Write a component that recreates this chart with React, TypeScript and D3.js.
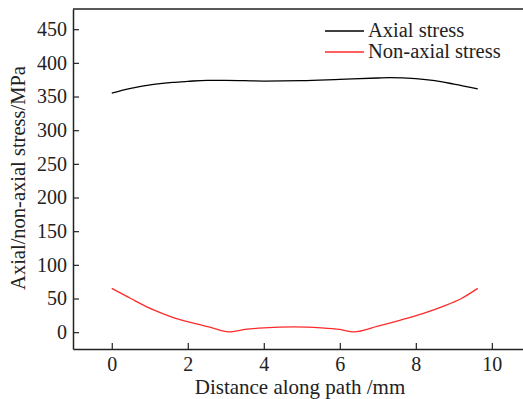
import * as d3 from 'd3'
import { useEffect, useRef } from 'react'

const axialX = [0, 0.5, 1.1, 1.6, 2.0, 2.5, 3.0, 4.0, 5.0, 6.0, 7.0, 7.3, 8.0, 8.5, 9.0, 9.63];
const axialY = [355, 362, 368, 371, 372.5, 374, 374, 373, 373.5, 375.5, 377.5, 378, 376.5, 373.5, 368.5, 361.5];

const nonAxialX = [0, 0.5, 1.1, 1.6, 2.1, 2.6, 3.08, 3.5, 4.0, 4.8, 5.5, 6.0, 6.37, 7.0, 7.6, 8.2, 8.7, 9.2, 9.63];
const nonAxialY = [65, 50, 33, 22, 14, 7, 0.5, 4, 6.5, 8, 6.5, 4, 0.5, 9, 18, 28, 38, 50, 65];

const xTicks = [0, 2, 4, 6, 8, 10];
const yTicks = [0, 50, 100, 150, 200, 250, 300, 350, 400, 450];

const seriesNames = ['Axial stress', 'Non-axial stress'];
const seriesColors = ['#000000', '#ff2a2a'];

const App = () => {
    const ref = useRef<SVGSVGElement>(null);

    useEffect(() => {
        const width = 523;
        const height = 399;
        const margin = { top: 9, right: 0, bottom: 50, left: 73 };
        const font = 'Liberation Serif, Times New Roman, serif';
        const ink = '#222';

        const svg = d3.select(ref.current);
        svg.selectAll('*').remove();

        const x = d3.scaleLinear().domain([-1.02, 10.82]).range([margin.left, width - margin.right]);
        const y = d3.scaleLinear().domain([-25, 480]).range([height - margin.bottom, margin.top]);

        const xAxis = svg.append('g')
            .attr('transform', `translate(0,${height - margin.bottom})`)
            .call(d3.axisBottom(x).tickValues(xTicks).tickSizeInner(-6).tickSizeOuter(0).tickPadding(8));
        const yAxis = svg.append('g')
            .attr('transform', `translate(${margin.left},0)`)
            .call(d3.axisLeft(y).tickValues(yTicks).tickSizeInner(-6).tickSizeOuter(0).tickPadding(6));

        [xAxis, yAxis].forEach(g => {
            g.attr('font-family', font);
            g.select('.domain').attr('stroke', ink).attr('stroke-width', 1.5);
            g.selectAll('.tick line').attr('stroke', ink).attr('stroke-width', 1.2);
            g.selectAll('.tick text')
                .attr('font-family', font)
                .attr('font-size', '20px')
                .attr('fill', ink);
        });

        // top frame line
        svg.append('line')
            .attr('x1', margin.left).attr('x2', width)
            .attr('y1', margin.top).attr('y2', margin.top)
            .attr('stroke', ink).attr('stroke-width', 1.5);

        const line = d3.line<[number, number]>()
            .x(d => x(d[0]))
            .y(d => y(d[1]))
            .curve(d3.curveMonotoneX);

        const axial = axialX.map((v, i) => [v, axialY[i]] as [number, number]);
        const nonAxial = nonAxialX.map((v, i) => [v, nonAxialY[i]] as [number, number]);

        [axial, nonAxial].forEach((data, i) => {
            svg.append('path')
                .datum(data)
                .attr('fill', 'none')
                .attr('stroke', seriesColors[i])
                .attr('stroke-width', 1.3)
                .attr('d', line);
        });

        // legend
        const legend = svg.append('g').attr('transform', 'translate(325,31)');
        seriesNames.forEach((name, i) => {
            legend.append('line')
                .attr('x1', 0).attr('x2', 39)
                .attr('y1', i * 21).attr('y2', i * 21)
                .attr('stroke', seriesColors[i]).attr('stroke-width', 1.3);
            legend.append('text')
                .attr('x', 43).attr('y', i * 21 + 5.5)
                .attr('font-family', font).attr('font-size', '20.5px').attr('fill', ink)
                .text(name);
        });

        svg.append('text')
            .attr('text-anchor', 'middle')
            .attr('x', 300)
            .attr('y', 394)
            .attr('font-family', font).attr('font-size', '21px').attr('fill', ink)
            .text('Distance along path /mm');

        svg.append('text')
            .attr('text-anchor', 'middle')
            .attr('transform', `translate(25,178) rotate(-90)`)
            .attr('font-family', font).attr('font-size', '20.5px').attr('fill', ink)
            .text('Axial/non-axial stress/MPa');
    }, []);

    return (
        <svg ref={ref} width={523} height={399}
            style={{ position: 'absolute', left: 0, top: 0, background: '#fff' }} />
    );
};

export default App;
